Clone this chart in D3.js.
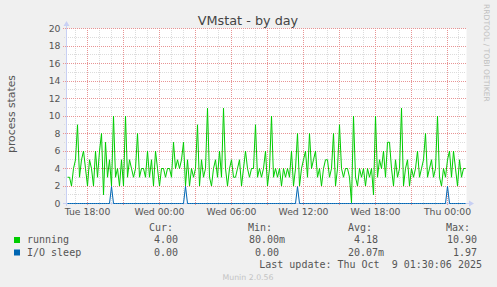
<html>
<head>
<script src="https://d3js.org/d3.v7.min.js"></script>
<style>
  body { margin: 0; background: #f0f0f0; }
  svg { display: block; }
  text { font-family: "DejaVu Sans", sans-serif; }
  .mono { font-family: "DejaVu Sans Mono", monospace; white-space: pre; }
</style>
<title>VMstat - by day</title>
</head>
<body>
<script>
// one sample every 10 minutes, starting Tue Oct 7 16:22:30
var running = [
  3, 3, 2, 4, 5, 9, 3, 5, 6, 4,
  2, 5, 4, 2, 6, 3, 6, 8, 1, 7,
  3, 5, 2, 10, 3, 4, 2, 5, 2, 10,
  3, 5, 4, 3, 4, 8, 3, 4, 4, 3,
  6, 3, 5, 2, 6, 4, 2, 4, 4, 3,
  4, 4, 3, 7, 4, 5, 4, 5, 7, 2,
  5, 2, 4, 3, 4, 9, 2, 5, 3, 4,
  10.9, 3, 2, 4, 5, 3, 6, 3, 10.9, 4,
  2, 4, 5, 3, 3, 4, 5, 2, 4, 6,
  4, 3, 4, 4, 9, 3, 4, 3, 4, 6,
  2, 4, 10, 3, 4, 3, 4, 2, 4, 3,
  4, 3, 6, 2, 4, 8, 2, 4, 5, 6,
  3, 8, 4, 5, 6, 3, 4, 2, 4, 5,
  5, 3, 4, 8, 2, 4, 9, 4, 3, 4,
  4, 3, 0.08, 10, 3, 2, 4, 3, 4, 2,
  4, 3, 4, 1, 10, 3, 5, 4, 6, 3,
  7, 7, 4, 2, 5, 3, 4, 10.9, 2, 4,
  5, 2, 4, 3, 4, 6, 3, 4, 5, 8,
  3, 4, 5, 3, 4, 10, 3, 2, 4, 3,
  5, 6, 3, 6, 4, 2, 5, 3, 4, 4
];
var ioSleep = [
  0, 0, 0, 0, 0, 0, 0, 0, 0, 0, 0, 0, 0, 0, 0, 0, 0, 0, 0, 0,
  0, 0, 1.95, 0, 0, 0, 0, 0, 0, 0, 0, 0, 0, 0, 0, 0, 0, 0, 0, 0,
  0, 0, 0, 0, 0, 0, 0, 0, 0, 0, 0, 0, 0, 0, 0, 0, 0, 0, 0, 1.97,
  0, 0, 0, 0, 0, 0, 0, 0, 0, 0, 0, 0, 0, 0, 0, 0, 0, 0, 0, 0,
  0, 0, 0, 0, 0, 0, 0, 0, 0, 0, 0, 0, 0, 0, 0, 0, 0, 0, 0, 0,
  0, 0, 0, 0, 0, 0, 0, 0, 0, 0, 0, 0, 0, 0, 0, 1.93, 0, 0, 0, 0,
  0, 0, 0, 0, 0, 0, 0, 0, 0, 0, 0, 0, 0, 0, 0, 0, 0, 0, 0, 0,
  0, 0, 0, 0, 0, 0, 0, 0, 0, 0, 0, 0, 0, 0, 0, 0, 0, 0, 0, 0,
  0, 0, 0, 0, 0, 0, 0, 0, 0, 0, 0, 0, 0, 0, 0, 0, 0, 0, 0, 0,
  0, 0, 0, 0, 0, 0, 0, 0, 0, 0, 1.96, 0, 0, 0, 0, 0, 0, 0, 0, 0
];
var seriesNames = ["running", "I/O sleep"];
var seriesColors = ["#00cc00", "#0066b3"];
var curVals = ["4.00 ", "0.00 "];
var minVals = ["80.00m", "0.00 "];
var avgVals = ["4.18 ", "20.07m"];
var maxVals = ["10.90 ", "1.97 "];
var yTicks = [0, 2, 4, 6, 8, 10, 12, 14, 16, 18, 20];
var lastUpdate = "Last update: Thu Oct  9 01:30:06 2025";

var svg = d3.select("body").append("svg").attr("width", 497).attr("height", 287);

var start = new Date(2025, 9, 7, 16, 17, 30);
var end = new Date(2025, 9, 9, 1, 37, 30);
var t0 = new Date(2025, 9, 7, 16, 22, 30);

var x = d3.scaleTime().domain([start, end]).range([66.5, 466.5]);
var y = d3.scaleLinear().domain([0, 20]).range([203.5, 28.5]);

function timeOf(i) { return new Date(t0.getTime() + i * 600000); }
// snap grid lines onto whole pixels so the dots stay crisp
function px(v) { return Math.round(v - 0.5) + 0.5; }

// plot background
svg.append("rect").attr("x", 66.5).attr("y", 28.5).attr("width", 400).attr("height", 175).style("fill", "#fff");

// minor grid
var hours = x.ticks(d3.timeHour.every(1));
hours.forEach(function (h) {
  svg.append("line").attr("x1", px(x(h))).attr("x2", px(x(h))).attr("y1", 28).attr("y2", 205)
    .style("stroke", "#dcdcdc").style("stroke-dasharray", "1,1");
});
d3.range(1, 20, 2).forEach(function (v) {
  svg.append("line").attr("x1", 64).attr("x2", 466).attr("y1", px(y(v))).attr("y2", px(y(v)))
    .style("stroke", "#dcdcdc").style("stroke-dasharray", "1,1");
});

// major grid
var majors = x.ticks(d3.timeHour.every(3));
majors.forEach(function (h) {
  svg.append("line").attr("x1", px(x(h))).attr("x2", px(x(h))).attr("y1", 28).attr("y2", 206)
    .style("stroke", "#e89494").style("stroke-dasharray", "1,1");
});
yTicks.forEach(function (v) {
  svg.append("line").attr("x1", 63).attr("x2", 466).attr("y1", px(y(v))).attr("y2", px(y(v)))
    .style("stroke", "#e89494").style("stroke-dasharray", "1,1");
});

// axes
var yAxis = d3.axisLeft(y).tickValues(yTicks).tickSize(0).tickPadding(6);
var gy = svg.append("g").attr("transform", "translate(66.5,0)").call(yAxis);
gy.select(".domain").remove();
gy.selectAll("text").style("font-size", "9.3px").style("fill", "#555").style("font-family", "DejaVu Sans");

var labelTicks = x.ticks(d3.timeHour.every(6));
var xAxis = d3.axisBottom(x).tickValues(labelTicks).tickFormat(d3.timeFormat("%a %H:%M")).tickSize(0).tickPadding(5);
var gx = svg.append("g").attr("transform", "translate(0,203.5)").call(xAxis);
gx.select(".domain").remove();
gx.selectAll("text").style("font-size", "9.3px").style("fill", "#555").style("font-family", "DejaVu Sans");

svg.append("line").attr("x1", 66.5).attr("x2", 66.5).attr("y1", 25).attr("y2", 206).style("stroke", "#c8d0f4");
svg.append("line").attr("x1", 63).attr("x2", 470).attr("y1", 203.5).attr("y2", 203.5).style("stroke", "#c8d0f4");
svg.append("path").attr("d", "M63.5,26 L66.5,21 L69.5,26 Z").style("fill", "#c8d0f4");
svg.append("path").attr("d", "M469,200.5 L474,203.5 L469,206.5 Z").style("fill", "#c8d0f4");

// series
var line = d3.line()
  .x(function (d, i) { return x(timeOf(i)); })
  .y(function (d) { return y(d); });

svg.append("path").attr("d", line(running))
  .style("fill", "none").style("stroke", seriesColors[0]).style("stroke-width", 1);
svg.append("path").attr("d", line(ioSleep))
  .style("fill", "none").style("stroke", seriesColors[1]).style("stroke-width", 1);

// titles
svg.append("text").attr("x", 248).attr("y", 25).attr("text-anchor", "middle")
  .style("font-size", "12.8px").style("fill", "#444").text("VMstat - by day");
svg.append("text").attr("transform", "translate(15,114) rotate(-90)").attr("text-anchor", "middle")
  .style("font-size", "10.8px").style("fill", "#555").text("process states");
svg.append("text").attr("transform", "translate(484,4) rotate(90)")
  .style("font-size", "7.6px").style("fill", "#c0c0c0").text("RRDTOOL / TOBI OETIKER");

// legend
var headers = [["Cur:", 173], ["Min:", 272], ["Avg:", 372], ["Max:", 470]];
headers.forEach(function (h) {
  svg.append("text").attr("class", "mono").attr("x", h[1]).attr("y", 231).attr("text-anchor", "end")
    .style("font-size", "10px").style("fill", "#555").text(h[0]);
});

seriesNames.forEach(function (name, i) {
  var ty = 243 + i * 12.5;
  svg.append("rect").attr("x", 14).attr("y", ty - 6).attr("width", 6).attr("height", 6).style("fill", seriesColors[i]);
  svg.append("text").attr("class", "mono").attr("x", 27).attr("y", ty)
    .style("font-size", "10px").style("fill", "#555").text(name);
  [[curVals, 184], [minVals, 285], [avgVals, 384], [maxVals, 483]].forEach(function (c) {
    svg.append("text").attr("class", "mono").attr("x", c[1]).attr("y", ty).attr("text-anchor", "end")
      .style("font-size", "10px").style("fill", "#555").text(c[0][i]);
  });
});

svg.append("text").attr("class", "mono").attr("x", 482).attr("y", 267.5).attr("text-anchor", "end")
  .style("font-size", "10px").style("fill", "#555").text(lastUpdate);
svg.append("text").attr("x", 248).attr("y", 279.5).attr("text-anchor", "middle")
  .style("font-size", "7.8px").style("fill", "#c4c4c4").text("Munin 2.0.56");
</script>
</body>
</html>
